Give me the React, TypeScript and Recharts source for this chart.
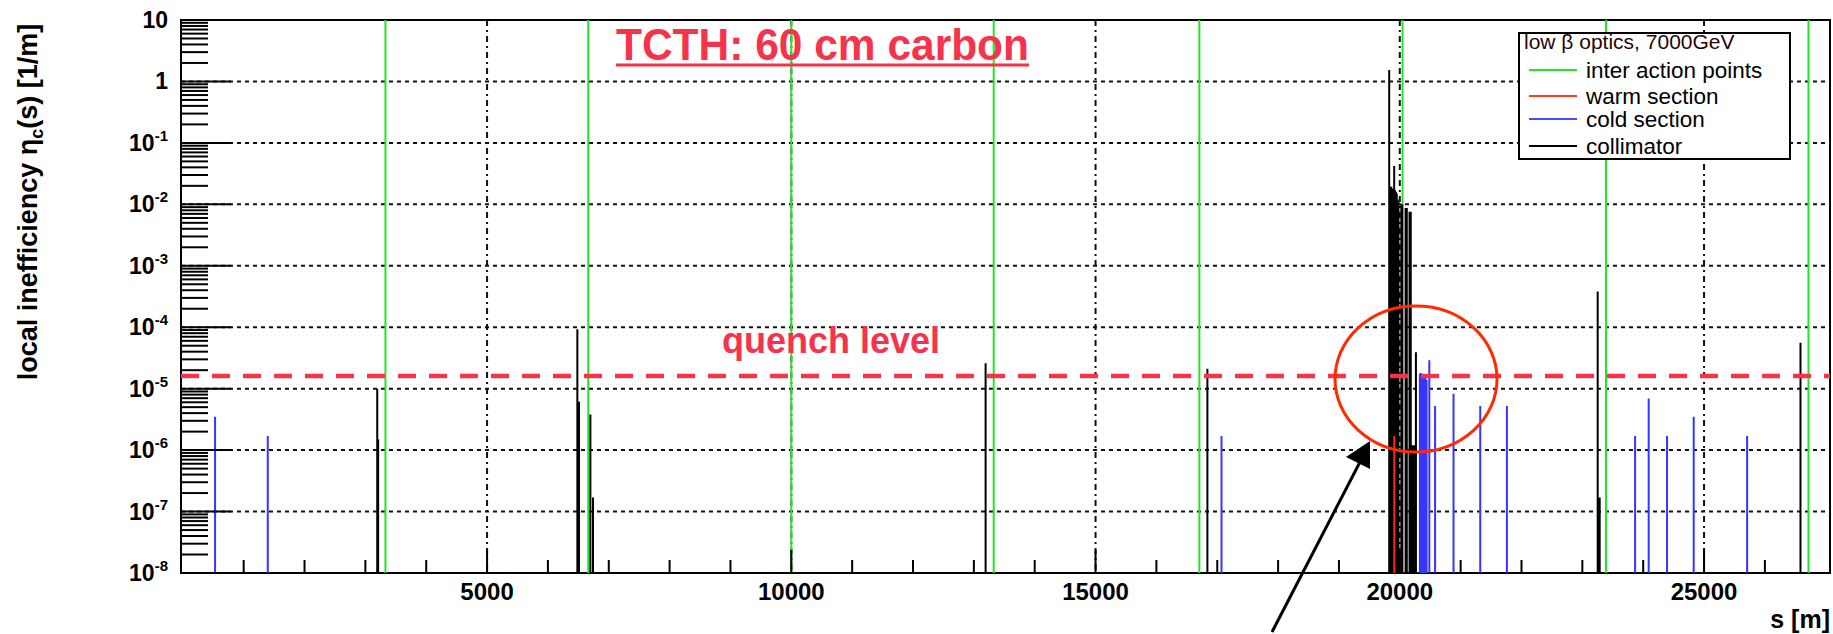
import React from 'react';
import {
  ComposedChart,
  Line,
  XAxis,
  YAxis,
  CartesianGrid,
  ReferenceLine,
  ReferenceArea,
} from 'recharts';

const W = 1833;
const H = 634;
const FONT = '"Liberation Sans", Arial, Helvetica, sans-serif';

// interaction points, s [m]
const ipS = [3330, 6663, 10000, 13326, 16706, 20045, 23389, 26716];

// collimator losses
const collS = [
  3195, 3210, 6484, 6511, 6698, 6741, 13193, 16838,
  19826, 19838, 19850, 19862, 19874, 19888, 19900, 19908, 19920, 19935, 19950, 19965, 19978,
  20025, 20040, 20095, 20115, 20160, 20180, 20200, 20215, 20235, 20250, 20265,
  23252, 23270, 23285, 26585,
];
const collEta = [
  1.0e-5, 1.5e-6, 9.3e-5, 6.1e-6, 3.8e-6, 1.7e-7, 2.6e-5, 2.1e-5,
  1.54, 0.019, 0.0195, 0.019, 0.018, 0.017, 0.017, 0.042, 0.017, 0.016, 0.015, 0.012, 0.011,
  0.01, 0.01, 0.0087, 0.0087, 0.0076, 0.0076, 1.2e-6, 1.2e-6, 1.2e-6, 1.1e-6, 3.9e-5,
  3.8e-4, 1.7e-7, 1.7e-7, 5.6e-5,
];

// warm section losses
const warmS = [19910];
const warmEta = [1.7e-6];

// cold section losses
const coldS = [
  530, 1396, 17070, 20330, 20345, 20360, 20375, 20390, 20405, 20420, 20440, 20485,
  20580, 20883, 21322, 21760, 23867, 24090, 24392, 24830, 25708,
];
const coldEta = [
  3.5e-6, 1.7e-6, 1.7e-6, 1.75e-5, 1.8e-5, 1.75e-5, 1.7e-5, 1.7e-5, 1.6e-5, 1.5e-5, 1.4e-5, 2.9e-5,
  5.2e-6, 8.3e-6, 5.2e-6, 5.2e-6, 1.7e-6, 6.9e-6, 1.7e-6, 3.5e-6, 1.7e-6,
];

const quenchLevel = 1.6e-5;

const xDomain = [-30, 27070];
const yMin = 1e-8;
const yMax = 10;

const xTicks = [5000, 10000, 15000, 20000, 25000];
const xMinorTicks = [
  1000, 2000, 3000, 4000, 6000, 7000, 8000, 9000, 11000, 12000, 13000, 14000,
  16000, 17000, 18000, 19000, 21000, 22000, 23000, 24000, 26000,
];
const yTicks = [1e-8, 1e-7, 1e-6, 1e-5, 1e-4, 1e-3, 1e-2, 1e-1, 1, 10];
const yTickBase = ['10', '10', '10', '10', '10', '10', '10', '10', '1', '10'];
const yTickSup = ['-8', '-7', '-6', '-5', '-4', '-3', '-2', '-1', '', ''];
const yMinorTicks = yTicks.slice(0, -1).flatMap((d) =>
  [2, 3, 4, 5, 6, 7, 8, 9].map((k) => k * d)
);

const allXTicks = [...xTicks, ...xMinorTicks].sort((a, b) => a - b);
const allYTicks = [...yTicks, ...yMinorTicks].sort((a, b) => a - b);

// each loss becomes a vertical stick from the axis floor up to its value
function sticks(s: number[], v: number[]) {
  return s.flatMap((x, i) => [
    { s: x, v: yMin },
    { s: x, v: v[i] },
    { s: x, v: null },
  ]);
}

const ipData = ipS.flatMap((x) => [
  { s: x, v: yMin },
  { s: x, v: yMax },
  { s: x, v: null },
]);

const Y_MARGIN = 13;

// ROOT style: ticks point into the frame, labels only on decades
function YTick(props: any) {
  const { x, y, payload } = props;
  const edge = x + Y_MARGIN;
  const i = yTicks.findIndex((t) => Math.abs(Math.log10(t) - Math.log10(payload.value)) < 1e-6);
  const len = i >= 0 ? 50 : 27;
  return (
    <g>
      <line x1={edge} x2={edge + len} y1={y} y2={y} stroke="#000" strokeWidth={2} />
      {i >= 0 && (
        <text
          x={x}
          y={y + 8}
          textAnchor="end"
          fontFamily={FONT}
          fontWeight="bold"
          fontSize={23}
          fill="#000"
        >
          {yTickBase[i]}
          {yTickSup[i] && (
            <tspan dy={-10} fontSize={15}>
              {yTickSup[i]}
            </tspan>
          )}
        </text>
      )}
    </g>
  );
}

function XTick(props: any) {
  const { x, y, payload } = props;
  const major = xTicks.includes(payload.value);
  return (
    <g>
      <line x1={x} x2={x} y1={y} y2={y - (major ? 23 : 13)} stroke="#000" strokeWidth={2} />
      {major && (
        <text
          x={x}
          y={y + 27}
          textAnchor="middle"
          fontFamily={FONT}
          fontWeight="bold"
          fontSize={24}
          fill="#000"
        >
          {payload.value}
        </text>
      )}
    </g>
  );
}

const legendRows = [
  { label: 'inter action points', color: '#22e622' },
  { label: 'warm section', color: '#ff3b1a' },
  { label: 'cold section', color: '#4a4aff' },
  { label: 'collimator', color: '#000' },
];
const legendRowY = [70, 96, 119, 146];

export default function App() {
  return (
    <div
      style={{
        position: 'absolute',
        left: 0,
        top: 0,
        width: W,
        height: H,
        background: '#fff',
      }}
    >
      <ComposedChart
        width={W}
        height={H}
        margin={{ top: 20, right: 3, bottom: 60, left: 180 }}
      >
        <XAxis
          xAxisId="x"
          type="number"
          dataKey="s"
          domain={xDomain}
          allowDataOverflow
          ticks={allXTicks}
          interval={0}
          height={1}
          tickSize={0}
          tickMargin={0}
          tickLine={false}
          axisLine={false}
          tick={(p: any) => <XTick {...p} />}
        />
        <YAxis
          yAxisId="y"
          type="number"
          scale="log"
          domain={[yMin, yMax]}
          allowDataOverflow
          ticks={allYTicks}
          interval={0}
          width={1}
          tickSize={0}
          tickMargin={Y_MARGIN}
          tickLine={false}
          axisLine={false}
          tick={(p: any) => <YTick {...p} />}
        />

        <CartesianGrid
          xAxisId="x"
          yAxisId="y"
          vertical={false}
          horizontalValues={yTicks}
          stroke="#111"
          strokeWidth={2}
          strokeDasharray="4 4"
        />
        <CartesianGrid
          xAxisId="x"
          yAxisId="y"
          horizontal={false}
          verticalValues={xTicks}
          stroke="#111"
          strokeWidth={2}
          strokeDasharray="6 4 2 4"
        />

        <Line
          xAxisId="x"
          yAxisId="y"
          data={ipData}
          dataKey="v"
          type="linear"
          stroke="#22e622"
          strokeWidth={2}
          dot={false}
          activeDot={false}
          connectNulls={false}
          isAnimationActive={false}
        />
        <Line
          xAxisId="x"
          yAxisId="y"
          data={sticks(collS, collEta)}
          dataKey="v"
          type="linear"
          stroke="#000"
          strokeWidth={2}
          dot={false}
          activeDot={false}
          connectNulls={false}
          isAnimationActive={false}
        />
        <Line
          xAxisId="x"
          yAxisId="y"
          data={sticks(coldS, coldEta)}
          dataKey="v"
          type="linear"
          stroke="#3535ff"
          strokeWidth={2}
          dot={false}
          activeDot={false}
          connectNulls={false}
          isAnimationActive={false}
        />
        <Line
          xAxisId="x"
          yAxisId="y"
          data={sticks(warmS, warmEta)}
          dataKey="v"
          type="linear"
          stroke="#ff2a00"
          strokeWidth={2}
          dot={false}
          activeDot={false}
          connectNulls={false}
          isAnimationActive={false}
        />

        <ReferenceLine
          xAxisId="x"
          yAxisId="y"
          y={quenchLevel}
          stroke="#f5334a"
          strokeWidth={4.5}
          strokeDasharray="18 13"
          ifOverflow="visible"
        />
        <ReferenceArea
          xAxisId="x"
          yAxisId="y"
          x1={xDomain[0]}
          x2={xDomain[1]}
          y1={yMin}
          y2={yMax}
          fill="none"
          fillOpacity={0}
          stroke="#000"
          strokeWidth={2}
          ifOverflow="visible"
        />
      </ComposedChart>

      <svg
        width={W}
        height={H}
        style={{ position: 'absolute', left: 0, top: 0, pointerEvents: 'none' }}
      >
        {/* y axis title */}
        <text
          transform="translate(37,202) rotate(-90)"
          textAnchor="middle"
          fontFamily={FONT}
          fontWeight="bold"
          fontSize={27}
          fill="#000"
        >
          local inefficiency η
          <tspan dy={6} fontSize={18}>c</tspan>
          <tspan dy={-6}>(s) [1/m]</tspan>
        </text>

        {/* x axis title */}
        <text
          x={1830}
          y={628}
          textAnchor="end"
          fontFamily={FONT}
          fontWeight="bold"
          fontSize={25}
          fill="#000"
        >
          s [m]
        </text>

        {/* headline */}
        <text
          x={616}
          y={60}
          fontFamily={FONT}
          fontWeight="bold"
          fontSize={44}
          fill="#f5334a"
          textLength={413}
          lengthAdjust="spacingAndGlyphs"
        >
          TCTH: 60 cm carbon
        </text>
        <line x1={616} x2={1029} y1={65} y2={65} stroke="#f5334a" strokeWidth={3} />

        <text
          x={722}
          y={353}
          fontFamily={FONT}
          fontWeight="bold"
          fontSize={36}
          fill="#f5334a"
        >
          quench level
        </text>

        {/* highlight ellipse and arrow */}
        <ellipse cx={1416} cy={379} rx={81} ry={73} fill="none" stroke="#ff2a00" strokeWidth={3} />
        <line x1={1272} y1={632} x2={1360} y2={462} stroke="#000" strokeWidth={3} />
        <polygon points="1370,441 1346,457 1370,469" fill="#000" />

        {/* legend */}
        <rect x={1519} y={33} width={271} height={126} fill="#fff" stroke="#000" strokeWidth={2} />
        <text x={1524} y={49} fontFamily={FONT} fontSize={21} fill="#2a0505">
          low β optics, 7000GeV
        </text>
        {legendRows.map((r, i) => (
          <g key={r.label}>
            <line
              x1={1529}
              x2={1577}
              y1={legendRowY[i]}
              y2={legendRowY[i]}
              stroke={r.color}
              strokeWidth={2}
            />
            <text
              x={1586}
              y={legendRowY[i] + 8}
              fontFamily={FONT}
              fontSize={22.5}
              fill="#000"
            >
              {r.label}
            </text>
          </g>
        ))}
      </svg>
    </div>
  );
}
